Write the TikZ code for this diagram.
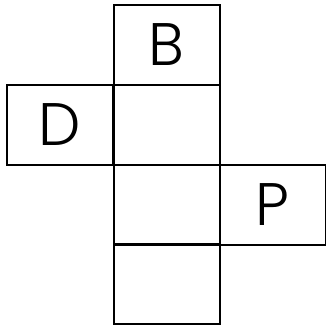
\documentclass[tikz,border=0pt]{standalone}
\usepackage{fontspec}
\setmainfont{Poppins Light}
\begin{document}
\begin{tikzpicture}[x=1pt,y=-1pt,
  cell/.style={draw=black,line width=2pt,minimum width=106pt,minimum height=80pt,inner sep=0pt,outer sep=0pt,anchor=north west,font=\fontsize{60}{60}\selectfont}]
\useasboundingbox (0,0) rectangle (326,327);
\node[cell] (b) at (113.5,4.5) {B};
\node[cell] (m1) at (113.5,84.5) {};
\node[cell] (d) at (6.5,84.5) {D};
\node[cell] (m2) at (113.5,164.5) {};
\node[cell] (p) at (219.5,164.5) {P};
\node[cell] (m3) at (113.5,244) {};
\end{tikzpicture}
\end{document}
